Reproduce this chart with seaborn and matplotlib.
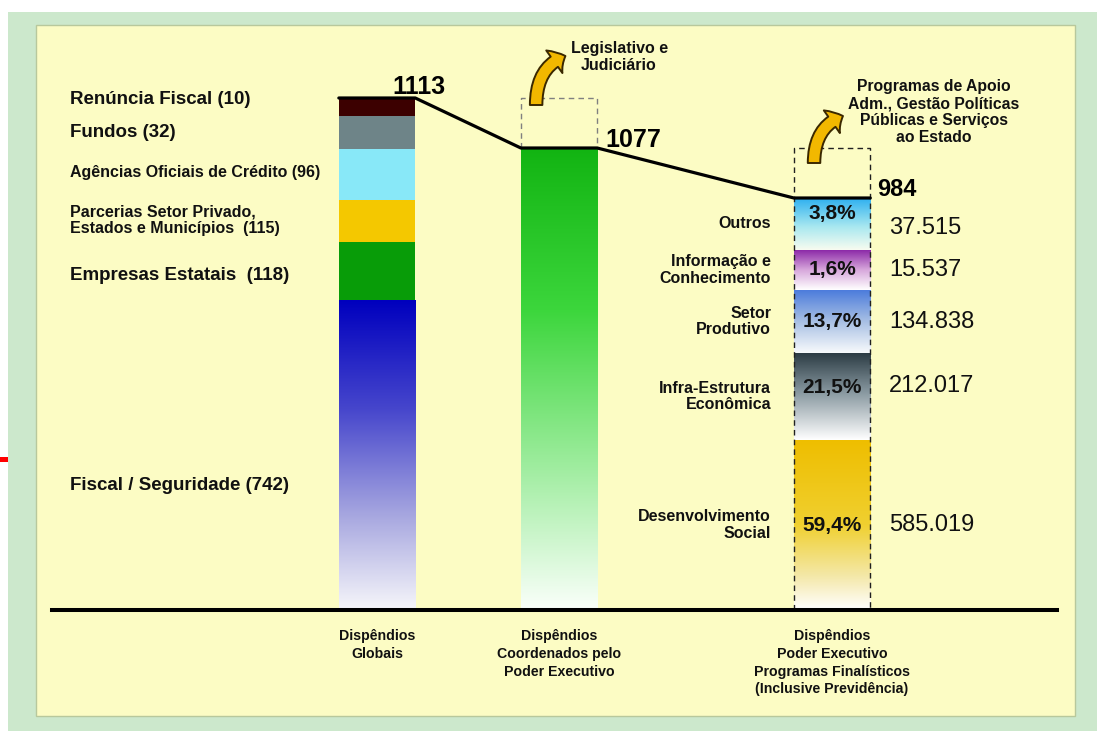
import matplotlib
matplotlib.use("Agg")
import matplotlib.pyplot as plt
import seaborn as sns
import numpy as np
import pandas as pd
from matplotlib.patches import Rectangle, FancyArrowPatch
from matplotlib.colors import LinearSegmentedColormap
from matplotlib import font_manager

# ---------------- data ----------------
categories = ["Dispêndios\nGlobais",
              "Dispêndios\nCoordenados pelo\nPoder Executivo",
              "Dispêndios\nPoder Executivo\nProgramas Finalísticos\n(Inclusive Previdência)"]
totals = [1113, 1077, 984]

# first bar (bottom -> top)
global_labels = ["Fiscal / Seguridade (742)", "Empresas Estatais  (118)",
                 "Parcerias Setor Privado,\nEstados e Municípios  (115)",
                 "Agências Oficiais de Crédito (96)", "Fundos (32)", "Renúncia Fiscal (10)"]
global_values = [742, 118, 115, 96, 32, 10]
# heights as drawn in the (not to scale) schematic
global_heights = [310, 58, 42, 51, 33, 18]

# second bar
coord_heights = [462]

# third bar (bottom -> top)
final_labels = ["Desenvolvimento\nSocial", "Infra-Estrutura\nEconômica", "Setor\nProdutivo",
                "Informação e\nConhecimento", "Outros"]
final_pct = ["59,4%", "21,5%", "13,7%", "1,6%", "3,8%"]
final_values = ["585.019", "212.017", "134.838", "15.537", "37.515"]
final_heights = [170, 87, 63, 40, 52]

note_legis = "Legislativo e\nJudiciário"
note_apoio = "Programas de Apoio\nAdm., Gestão Políticas\nPúblicas e Serviços\nao Estado"

# ---------------- styles ----------------
global_grads = [
    [(0, "#0000BE"), (0.35, "#4646CC"), (0.7, "#A8A8E0"), (1, "#F6F6FA")],
    [(0, "#089C08"), (1, "#089C08")],
    [(0, "#F4C800"), (1, "#F4C800")],
    [(0, "#88E8F8"), (1, "#88E8F8")],
    [(0, "#6E8488"), (1, "#6E8488")],
    [(0, "#3C0000"), (1, "#3C0000")],
]
coord_grads = [[(0, "#12B412"), (0.35, "#3CD63C"), (0.68, "#9CEC9C"), (1, "#FAFFFA")]]
final_grads = [
    [(0, "#EEBE00"), (0.5, "#F0D030"), (0.8, "#F4E8A8"), (1, "#FFFFFF")],
    [(0, "#2C3C44"), (0.45, "#8898A0"), (1, "#FFFFFF")],
    [(0, "#4C7CDC"), (0.5, "#A8C0E4"), (1, "#F8FAFC")],
    [(0, "#8C2AA8"), (0.5, "#D8A8DC"), (1, "#FFFFFF")],
    [(0, "#2EB0F0"), (0.55, "#A8E8F0"), (1, "#F8FCF0")],
]

sns.set_style("white")
plt.rcParams["font.family"] = ["Liberation Sans", "DejaVu Sans"]
names = {f.name for f in font_manager.fontManager.ttflist}
narrow = "Liberation Sans Narrow" if "Liberation Sans Narrow" in names else None

W, H = 1097, 731
fig = plt.figure(figsize=(W / 100, H / 100), dpi=100, facecolor="white")

# slide background panels
fig.patches.append(Rectangle((8 / W, 0), 1, (H - 12) / H, transform=fig.transFigure,
                             facecolor="#CCE8CC", edgecolor="none", zorder=-10))
fig.patches.append(Rectangle((36 / W, (H - 716) / H), (1075 - 36) / W, (716 - 25) / H,
                             transform=fig.transFigure, facecolor="#FCFCC4",
                             edgecolor="#B8C89C", lw=1, zorder=-9))
fig.patches.append(Rectangle((0, (H - 462) / H), 8 / W, 5 / H, transform=fig.transFigure,
                             facecolor="#FF0000", edgecolor="none", zorder=-8))

ax = fig.add_axes([52 / W, (H - 610) / H, (1057 - 52) / W, (610 - 25) / H])
ax.patch.set_visible(False)

bar_x = [0, 1, 2.5]
bar_w = 0.42


def gradient_fill(patch, stops):
    cmap = LinearSegmentedColormap.from_list("g", stops)
    bb = patch.get_bbox()
    grad = np.linspace(0, 1, 256).reshape(-1, 1)
    im = ax.imshow(grad, cmap=cmap, vmin=0, vmax=1, aspect="auto", origin="upper",
                   extent=[bb.x0, bb.x1, bb.y0, bb.y1], interpolation="bilinear",
                   zorder=1.1)
    im.set_clip_path(patch)


stacks = [(bar_x[0], global_heights, global_grads),
          (bar_x[1], coord_heights, coord_grads),
          (bar_x[2], final_heights, final_grads)]
centers = []
tops = []
for xpos, heights, grads in stacks:
    bottom = 0
    cs = []
    for h, g in zip(heights, grads):
        df = pd.DataFrame({"pos": [xpos], "h": [h]})
        sns.barplot(data=df, x="pos", y="h", native_scale=True, width=bar_w,
                    color=g[0][1], saturation=1, errorbar=None, bottom=bottom,
                    linewidth=0, ax=ax)
        patch = ax.patches[-1]
        if g[0][1] != g[-1][1]:
            gradient_fill(patch, g)
        cs.append(bottom + h / 2)
        bottom += h
    centers.append(cs)
    tops.append(bottom)

half = bar_w / 2
# connecting top line
lx, ly = [], []
for xpos, t in zip(bar_x, tops):
    lx += [xpos - half, xpos + half]
    ly += [t, t]
ax.plot(lx, ly, color="black", lw=2.3, zorder=4, solid_joinstyle="round")

# dashed boxes for the removed parts
l2, r2 = bar_x[1] - half, bar_x[1] + half
ax.plot([l2, l2, r2, r2], [tops[1], tops[0], tops[0], tops[1]], color="#808080",
        lw=1, ls=(0, (4, 3)), zorder=3)
l3, r3 = bar_x[2] - half, bar_x[2] + half
ax.plot([l3, l3, r3, r3], [0, tops[1], tops[1], 0], color="#202020",
        lw=1, ls=(0, (4, 3)), zorder=3)

# curved arrows
for a, b in [((l2 + 0.084, tops[0] - 7), (bar_x[1] + 0.035, tops[0] + 42)),
             ((l3 + 0.111, tops[1] - 15), (bar_x[2] + 0.06, tops[1] + 32))]:
    arr = FancyArrowPatch(a, b, arrowstyle="simple,head_length=9,head_width=20,tail_width=9",
                          connectionstyle="angle3,angleA=90,angleB=20",
                          facecolor="#F2B800", edgecolor="#3A2800", lw=1.4,
                          shrinkA=0, shrinkB=0, mutation_scale=1, zorder=5)
    ax.add_patch(arr)

# totals
tot_off = [(-0.127, 4), (0.044, 1), (0.038, 2)]
for xpos, t, v, (dx, dy) in zip(bar_x, tops, totals, tot_off):
    ax.text(xpos + half + dx, t + dy, str(v), ha="left", va="baseline",
            fontsize=18 if v != 984 else 17, fontweight="bold", color="black", zorder=6)

# left labels of first bar
left_sizes = [13.5, 13.5, 11.5, 11.5, 13.5, 13.5]
left_offsets = [-30, -4, 1, 2, 0, 7]
for lab, c, fs, off in zip(global_labels, centers[0], left_sizes, left_offsets):
    ax.text(-1.687, c + off, lab, ha="left", va="center", fontsize=fs,
            fontweight="bold", color="#111111", linespacing=1.15)

# third bar labels
pct_offsets = [0, 9, 0, 0, 11]
val_offsets = [0, 10, 0, 0, -4]
for lab, pct, val, c, po, vo in zip(final_labels, final_pct, final_values, centers[2],
                                    pct_offsets, val_offsets):
    ax.text(l3 - 0.125, c, lab, ha="right", va="center", fontsize=11.5,
            fontweight="bold", color="#111111", linespacing=1.15)
    ax.text(bar_x[2], c + po, pct, ha="center", va="center", fontsize=15,
            fontweight="bold", color="#111111", zorder=6)
    ax.text(2.813, c + vo, val, ha="left", va="center", fontsize=17,
            color="#111111")

# notes
ax.text(1.33, tops[0] + 41, note_legis, ha="center", va="center", fontsize=11.5,
        fontweight="bold", color="#111111", linespacing=1.15)
ax.text(3.06, tops[1] + 36, note_apoio, ha="center", va="center", fontsize=11.3,
        fontweight="bold", color="#111111", linespacing=1.15)

ax.set_xlim(-1.786, 3.736)
ax.set_ylim(0, 585)
ax.set_xlabel("")
ax.set_ylabel("")
ax.set_yticks([])
ax.set_xticks(bar_x)
ax.set_xticklabels(categories)
for t in ax.get_xticklabels():
    if narrow:
        t.set_fontfamily([narrow, "Liberation Sans"])
        t.set_fontsize(11.5)
        t.set_linespacing(1.2)
    else:
        t.set_fontsize(10.2)
        t.set_linespacing(1.33)
    t.set_fontweight("bold")
    t.set_color("#111111")
ax.tick_params(axis="x", length=0, pad=14)
for s in ["top", "left", "right"]:
    ax.spines[s].set_visible(False)
ax.spines["bottom"].set_linewidth(2.9)
ax.spines["bottom"].set_color("black")
ax.spines["bottom"].set_zorder(6)

fig.savefig("out.png", dpi=100, facecolor=fig.get_facecolor())
